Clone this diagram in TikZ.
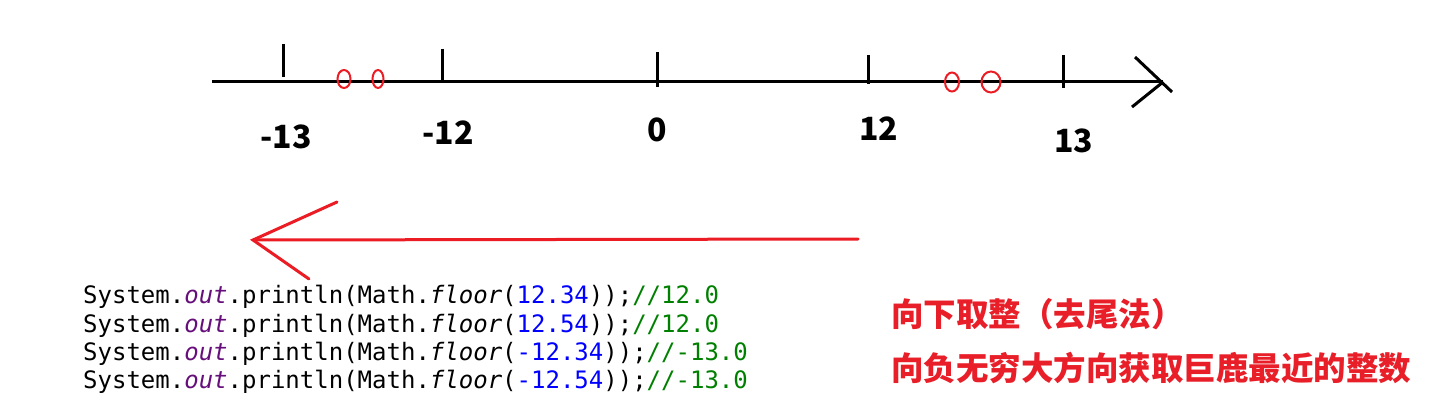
\documentclass[tikz,border=0pt]{standalone}
\usepackage{fontspec}
\setmonofont{DejaVu Sans Mono}
\newfontfamily\cjk{Noto Sans CJK SC}
\definecolor{axred}{RGB}{236,28,36}
\definecolor{txtred}{RGB}{232,30,40}
\definecolor{jpurple}{RGB}{102,14,122}
\definecolor{jblue}{RGB}{0,0,255}
\definecolor{jgreen}{RGB}{0,128,0}
\newcommand\jout[1]{{\color{jpurple}\itshape #1}}
\newcommand\jflr[1]{{\itshape #1}}
\newcommand\jnum[1]{{\color{jblue}#1}}
\newcommand\jcmt[1]{{\color{jgreen}#1}}
\tikzset{
  axisline/.style={line width=3pt, black},
  tickline/.style={line width=3pt, black},
  numlbl/.style={inner sep=0pt, font=\cjk\bfseries\fontsize{32}{38}\selectfont, anchor=base},
  ring/.style={draw=axred, line width=2pt},
  redarrow/.style={line width=3pt, axred, line cap=round},
  codeline/.style={inner sep=0pt, anchor=base west, font=\ttfamily\fontsize{24}{28}\selectfont},
  cntext/.style={inner sep=0pt, anchor=base west, text=txtred, font=\cjk\bfseries\fontsize{32.5}{38}\selectfont}
}
\begin{document}
\begin{tikzpicture}[x=1pt,y=-1pt]
\useasboundingbox (0,0) rectangle (1445,417);
% axis
\coordinate (axL) at (212,82);
\coordinate (axR) at (1163,82);
\coordinate (hU) at (1135,57);
\coordinate (hUe) at (1172,92);
\coordinate (hL) at (1132,107);
\draw[axisline] (axL) -- (axR);
\draw[axisline] (hU) -- (hUe);
\draw[axisline] (hL) -- (axR);
% ticks
\coordinate (tm13a) at (283,44); \coordinate (tm13b) at (283,77);
\coordinate (tm12a) at (442,49); \coordinate (tm12b) at (442,82);
\coordinate (t0a) at (657,52);   \coordinate (t0b) at (657,87);
\coordinate (t12a) at (868,55);  \coordinate (t12b) at (868,84);
\coordinate (t13a) at (1063,55); \coordinate (t13b) at (1063,88);
\draw[tickline] (tm13a) -- (tm13b);
\draw[tickline] (tm12a) -- (tm12b);
\draw[tickline] (t0a) -- (t0b);
\draw[tickline] (t12a) -- (t12b);
\draw[tickline] (t13a) -- (t13b);
% rings
\draw[ring] (344,79) ellipse [x radius=6.5, y radius=9];
\draw[ring] (378,79) ellipse [x radius=5.5, y radius=9];
\draw[ring] (952,82) ellipse [x radius=7, y radius=9.5];
\draw[ring] (991,82) ellipse [x radius=9.5, y radius=10.5];
% labels
\node[numlbl] (lm13) at (286,148) {-13};
\node[numlbl] (lm12) at (448,145) {-12};
\node[numlbl] (l0) at (657,142) {0};
\node[numlbl] (l12) at (878.5,140) {12};
\node[numlbl] (l13) at (1073.5,152) {13};
% red arrow
\coordinate (raS) at (858,239);
\coordinate (raT) at (253,240);
\coordinate (raU) at (337,202);
\coordinate (raD) at (309,279);
\draw[redarrow] (raS) -- (raT);
\draw[redarrow] (raU) -- (raT) -- (raD);
% code
\node[codeline] (c1) at (83,303) {System.\jout{out}.println(Math.\jflr{floor}(\jnum{12.34}));\jcmt{//12.0}};
\node[codeline] (c2) at (83,332) {System.\jout{out}.println(Math.\jflr{floor}(\jnum{12.54}));\jcmt{//12.0}};
\node[codeline] (c3) at (83,360) {System.\jout{out}.println(Math.\jflr{floor}(\jnum{-12.34}));\jcmt{//-13.0}};
\node[codeline] (c4) at (83,388) {System.\jout{out}.println(Math.\jflr{floor}(\jnum{-12.54}));\jcmt{//-13.0}};
% chinese text
\node[cntext] (t1) at (891,326) {向下取整（去尾法）};
\node[cntext] (t2) at (891,380) {向负无穷大方向获取巨鹿最近的整数};
\end{tikzpicture}
\end{document}
